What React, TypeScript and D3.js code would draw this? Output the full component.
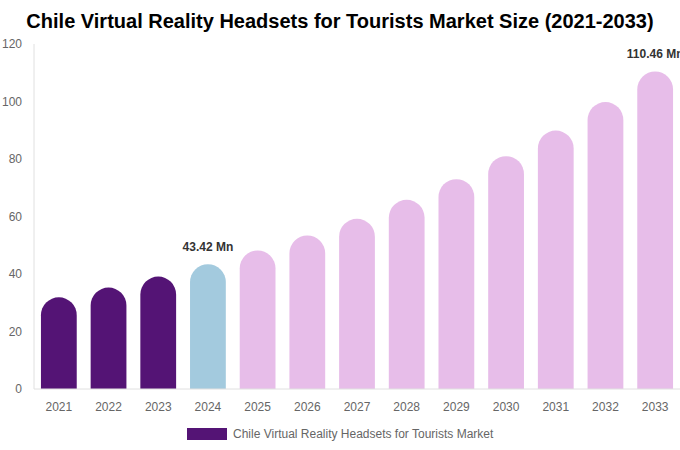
import * as d3 from "d3";

const years = ["2021", "2022", "2023", "2024", "2025", "2026", "2027", "2028", "2029", "2030", "2031", "2032", "2033"];
const values = [31.9, 35.3, 39.1, 43.42, 48.2, 53.4, 59.2, 65.8, 73.0, 81.0, 89.9, 99.8, 110.46];
const yTicks = [0, 20, 40, 60, 80, 100, 120];
const labelled = ["2024", "2033"];

const W = 680;
const H = 450;
const margin = { top: 44, right: 0, bottom: 61, left: 34 };

const colorFor = (year: string) => {
  const y = +year;
  if (y < 2024) return "#541475";
  if (y === 2024) return "#a3cade";
  return "#e7bde9";
};

// bar with fully rounded top, flat bottom
const pillPath = (x: number, w: number, yTop: number, yBottom: number) => {
  const r = w / 2;
  const top = Math.min(yTop + r, yBottom);
  return `M${x},${yBottom} L${x},${top} A${r},${r} 0 0 1 ${x + w},${top} L${x + w},${yBottom} Z`;
};

export default function App() {
  const x = d3
    .scaleBand<string>()
    .domain(years)
    .range([margin.left, W - margin.right])
    .paddingInner(0.28)
    .paddingOuter(0.14);
  const y = d3.scaleLinear().domain([0, 120]).range([H - margin.bottom, margin.top]);
  const base = y(0);

  return (
    <svg
      width={W}
      height={H}
      style={{ position: "absolute", left: 0, top: 0, fontFamily: "'Liberation Sans', Arial, sans-serif" }}
    >
      <rect width={W} height={H} fill="#fff" />
      <text x={340} y={28} textAnchor="middle" fontSize={20} fontWeight="bold" fill="#000">
        Chile Virtual Reality Headsets for Tourists Market Size (2021-2033)
      </text>

      {/* y axis */}
      <line x1={margin.left} x2={margin.left} y1={margin.top} y2={base} stroke="#e0e0e0" />
      {yTicks.map((t) => (
        <text key={t} x={22} y={y(t)} dy="0.35em" textAnchor="end" fontSize={12} fill="#666">
          {t}
        </text>
      ))}

      {/* bars */}
      {years.map((yr, i) => (
        <path
          key={yr}
          d={pillPath(x(yr)!, x.bandwidth(), y(values[i]), base)}
          fill={colorFor(yr)}
        />
      ))}

      <line x1={margin.left} x2={W} y1={base} y2={base} stroke="#e0e0e0" />

      {years.map((yr) => (
        <text
          key={yr}
          x={x(yr)! + x.bandwidth() / 2}
          y={411}
          textAnchor="middle"
          fontSize={12}
          fill="#666"
        >
          {yr}
        </text>
      ))}

      {years.map((yr, i) =>
        labelled.includes(yr) ? (
          <text
            key={"l" + yr}
            x={x(yr)! + x.bandwidth() / 2}
            y={y(values[i]) - 13}
            textAnchor="middle"
            fontSize={12}
            fontWeight="bold"
            fill="#333"
          >
            {values[i].toFixed(2)} Mn
          </text>
        ) : null
      )}

      {/* legend */}
      <rect x={187} y={428} width={40} height={12} fill="#541475" />
      <text x={233} y={437.5} fontSize={12} fill="#666">
        Chile Virtual Reality Headsets for Tourists Market
      </text>
    </svg>
  );
}
